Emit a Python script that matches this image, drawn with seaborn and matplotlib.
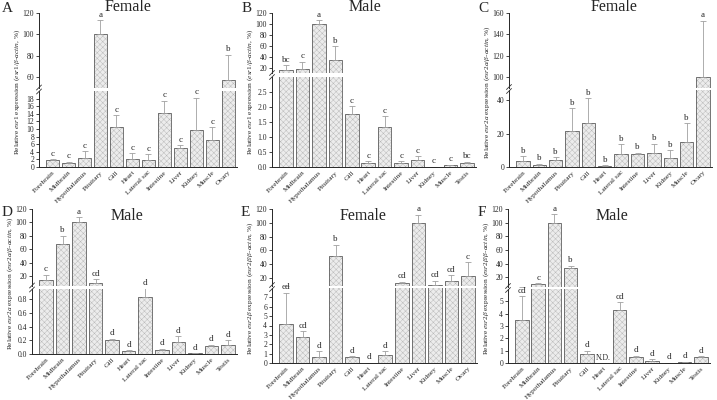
import matplotlib
matplotlib.use("Agg")
import matplotlib.pyplot as plt
from matplotlib.lines import Line2D
import seaborn as sns
import numpy as np

# tissues
tissues_f = ['Forebrain', 'Midbrain', 'Hypothalamus', 'Pituitary', 'Gill', 'Heart',
             'Lateral sac', 'Intestine', 'Liver', 'Kidney', 'Muscle', 'Ovary']
tissues_m = ['Forebrain', 'Midbrain', 'Hypothalamus', 'Pituitary', 'Gill', 'Heart',
             'Lateral sac', 'Intestine', 'Liver', 'Kidney', 'Muscle', 'Testis']

# A - esr1 female
a_vals = [1.8, 1.1, 2.5, 100, 10.4, 2.0, 1.9, 14.3, 5.0, 9.7, 7.1, 57]
a_err = [0.3, 0.3, 1.6, 13, 3.2, 1.6, 1.4, 3.1, 0.8, 8.5, 3.4, 24]
a_sig = ['c', 'c', 'c', 'a', 'c', 'c', 'c', 'c', 'c', 'c', 'c', 'b']

# B - esr1 male
b_vals = [15, 18, 100, 33, 1.77, 0.15, 1.33, 0.15, 0.23, 0.01, 0.06, 0.15]
b_err = [9, 13, 7, 26, 0.25, 0.05, 0.37, 0.04, 0.13, 0.005, 0.015, 0.03]
b_sig = ['bc', 'c', 'a', 'b', 'c', 'c', 'c', 'c', 'c', 'c', 'c', 'bc']

# C - esr2a female
c_vals = [3.5, 1.2, 4.2, 21.5, 26.3, 0.5, 7.8, 7.8, 8.5, 5.4, 15.2, 100]
c_err = [3, 0.8, 1.8, 13.5, 14.7, 0.5, 5.7, 0.7, 5.5, 4.6, 10.8, 53]
c_sig = ['b', 'b', 'b', 'b', 'b', 'b', 'b', 'b', 'b', 'b', 'b', 'a']

# D - esr2a male
d_vals = [14, 67, 100, 10, 0.2, 0.05, 0.83, 0.06, 0.18, 0.01, 0.11, 0.13]
d_err = [8, 13, 8, 5, 0.025, 0.005, 0.17, 0.015, 0.08, 0.003, 0.025, 0.07]
d_sig = ['c', 'b', 'a', 'cd', 'd', 'd', 'd', 'd', 'd', 'd', 'd', 'd']

# E - esr2b female
e_vals = [4.2, 2.75, 0.65, 52, 0.65, 0.02, 0.85, 13, 100, 10, 16, 22]
e_err = [3.3, 0.65, 0.6, 16, 0.1, 0.0, 0.4, 1, 12, 6, 8, 21]
e_sig = ['cd', 'cd', 'd', 'b', 'd', 'd', 'd', 'cd', 'a', 'cd', 'cd', 'c']

# F - esr2b male
f_vals = [3.45, 10, 100, 34, 0.75, 0, 4.3, 0.5, 0.2, 0.02, 0.08, 0.5]
f_err = [1.95, 2, 12, 3, 0.25, 0, 0.65, 0.08, 0.12, 0.0, 0.02, 0.03]
f_sig = ['cd', 'c', 'a', 'b', 'd', 'N.D.', 'cd', 'd', 'd', 'd', 'd', 'd']

sns.set_style('ticks')
plt.rcParams['font.family'] = ['Liberation Serif', 'DejaVu Serif']
plt.rcParams['mathtext.fontset'] = 'custom'
plt.rcParams['mathtext.rm'] = 'Liberation Serif'
plt.rcParams['mathtext.it'] = 'Liberation Serif:italic'
plt.rcParams['hatch.linewidth'] = 0.3

fig = plt.figure(figsize=(7.17, 4.0), dpi=100)
W, H = 717, 400


def lbl(g):
    return ('Relative $\\mathit{' + g + '}$ expression ($\\mathit{' + g +
            '/β}$-$\\mathit{actin}$, %)')


# letter, title, tissues, vals, err, sig, gene, lower ylim, upper ylim,
# lower ticks, upper ticks, left, right, up top, up bottom, low top, low bottom,
# panel letter x, title x
panels = [
    ('A', 'Female', tissues_f, a_vals, a_err, a_sig, 'esr1', (0, 20), (50, 120),
     np.arange(0, 19, 2), [60, 80, 100, 120], 39, 237, 13, 88, 91, 167, 2, 128),
    ('B', 'Male', tissues_m, b_vals, b_err, b_sig, 'esr1', (0, 3), (10, 120),
     [0, 0.5, 1.0, 1.5, 2.0, 2.5], [20, 40, 60, 80, 100, 120], 272, 476, 13, 73, 77, 167,
     242, 365),
    ('C', 'Female', tissues_f, c_vals, c_err, c_sig, 'esr2a', (0, 46), (90, 160),
     [0, 20, 40], [100, 120, 140, 160], 509, 712, 13, 88, 90, 167, 478, 614),
    ('D', 'Male', tissues_m, d_vals, d_err, d_sig, 'esr2a', (0, 0.95), (5, 120),
     [0, 0.2, 0.4, 0.6, 0.8], [20, 40, 60, 80, 100, 120], 32, 237, 209, 286, 289, 354,
     2, 127),
    ('E', 'Female', tissues_f, e_vals, e_err, e_sig, 'esr2β', (0, 8), (8, 120),
     np.arange(0, 8), [20, 40, 60, 80, 100, 120], 272, 477, 209, 286, 288, 363, 241, 363),
    ('F', 'Male', tissues_m, f_vals, f_err, f_sig, 'esr2β', (0, 6), (6, 120),
     np.arange(0, 6), [20, 40, 60, 80, 100, 120], 508, 710, 209, 287, 289, 363, 478, 612),
]

for (letter, title, tis, vals, err, sig, gene, lo_lim, up_lim, lo_ticks, up_ticks,
     left, right, ut, ub, lt, lb, let_x, tit_x) in panels:
    ax_up = fig.add_axes([left / W, 1 - ub / H, (right - left) / W, (ub - ut) / H])
    ax_lo = fig.add_axes([left / W, 1 - lb / H, (right - left) / W, (lb - lt) / H])
    x = np.arange(len(tis))
    for ax in (ax_up, ax_lo):
        # hatched fill (hatch takes the edge colour), then a darker outline on top
        sns.barplot(x=tis, y=vals, ax=ax, color='#ececec', width=0.82,
                    edgecolor='#b4b4b4', linewidth=0, errorbar=None)
        for p in ax.patches:
            p.set_hatch('xxxxxx')
        ax.bar(x, vals, width=0.82, fill=False, edgecolor='#5e5e5e', linewidth=0.6)
        ax.errorbar(x, vals, yerr=[np.zeros(len(vals)), err], fmt='none',
                    ecolor='#a0a0a0', elinewidth=0.6, capsize=2, capthick=0.6)
        ax.set_xlim(-0.85, len(tis) - 0.45)
        ax.set_xlabel('')
        ax.set_ylabel('')
        for s in ['top', 'right']:
            ax.spines[s].set_visible(False)
        ax.spines['left'].set_linewidth(0.7)
        ax.spines['bottom'].set_linewidth(0.7)
        ax.tick_params(axis='y', labelsize=5.5, length=2.5, width=0.6, pad=1)
    ax_up.set_ylim(*up_lim)
    ax_lo.set_ylim(*lo_lim)
    ax_up.set_yticks(up_ticks)
    ax_lo.set_yticks(lo_ticks)
    if isinstance(lo_ticks[1], float):
        ax_lo.set_yticklabels([f'{t:.1f}' for t in lo_ticks])
    ax_up.spines['bottom'].set_visible(False)
    ax_up.set_xticks([])
    ax_lo.set_xticks(x)
    ax_lo.set_xticklabels(tis, rotation=45, ha='right', rotation_mode='anchor',
                          fontsize=5.3)
    ax_lo.tick_params(axis='x', length=0, pad=2)

    for i in range(len(vals)):
        top = vals[i] + err[i]
        ax = ax_up if top > lo_lim[1] else ax_lo
        ax.annotate(sig[i], (i, top), xytext=(0, 1), textcoords='offset points',
                    ha='center', va='bottom', fontsize=6.5 if sig[i] != 'N.D.' else 5.5,
                    annotation_clip=False)

    # break marks on the y axis
    ym = 1 - ((ub + lt) / 2) / H
    for dy in (-2.0, 2.0):
        fig.add_artist(Line2D([(left - 2.5) / W, (left + 2.5) / W],
                              [ym + (dy - 2.5) / H, ym + (dy + 2.5) / H],
                              color='#333333', lw=0.6))

    fig.text((left - 22) / W, 1 - ((ut + lb) / 2 + 2) / H, lbl(gene), rotation=90,
             ha='center', va='center', fontsize=5.3)
    fig.text(tit_x / W, 1 - (ut - 6 if ut < 100 else ut + 7) / H,
             title, ha='center', va='center', fontsize=11.5)
    fig.text(let_x / W, 1 - (ut - 4 if ut < 100 else ut + 3) / H, letter,
             ha='left', va='center', fontsize=11)

fig.savefig('out.png', dpi=100)
